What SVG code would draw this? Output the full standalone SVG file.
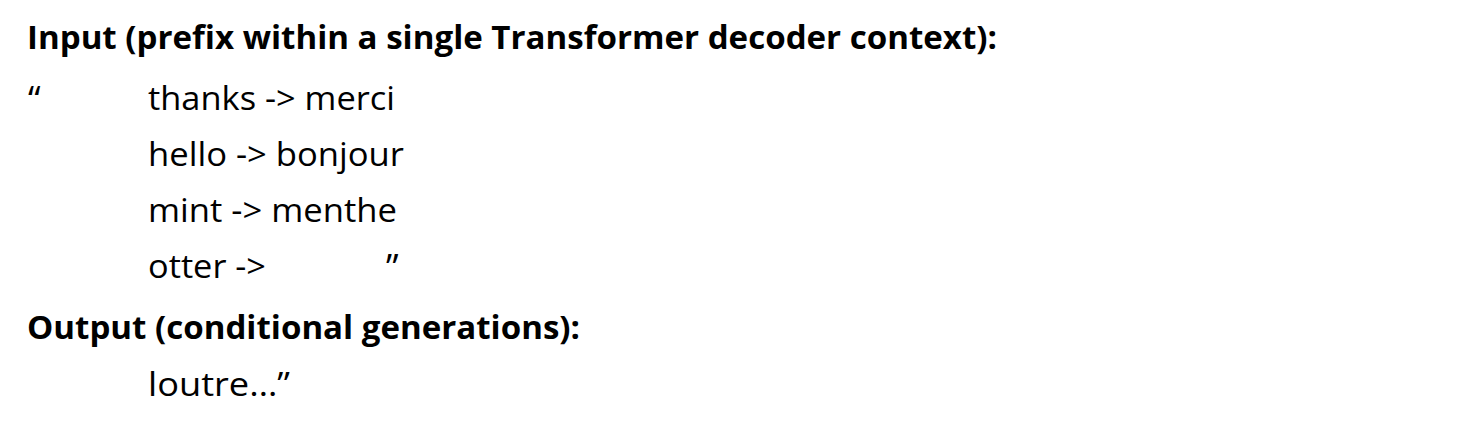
<svg xmlns="http://www.w3.org/2000/svg" width="1471" height="425" viewBox="0 0 1471 425">
<style>
  .t { font-family: "Open Sans", "Noto Sans", "Liberation Sans", sans-serif; font-size: 33px; fill: #000; }
  .b { font-weight: bold; }
  .q { font-size: 36px; }
</style>
<rect width="1471" height="425" fill="#fff"/>
<g id="input-heading">
  <text class="t b" x="27" y="49" textLength="970" lengthAdjust="spacingAndGlyphs">Input (prefix within a single Transformer decoder context):</text>
</g>
<g id="prompt">
  <text class="t q" x="28" y="112">“</text>
  <text class="t" x="148" y="110" textLength="247" lengthAdjust="spacingAndGlyphs">thanks -&gt; merci</text>
  <text class="t" x="148" y="166" textLength="256" lengthAdjust="spacingAndGlyphs">hello -&gt; bonjour</text>
  <text class="t" x="148" y="222" textLength="249" lengthAdjust="spacingAndGlyphs">mint -&gt; menthe</text>
  <text class="t" x="148" y="278" textLength="118" lengthAdjust="spacingAndGlyphs">otter -&gt;</text>
  <text class="t q" x="386" y="280">”</text>
</g>
<g id="output-heading">
  <text class="t b" x="27" y="339" textLength="553" lengthAdjust="spacingAndGlyphs">Output (conditional generations):</text>
</g>
<g id="output">
  <text class="t" x="148" y="396" textLength="142" lengthAdjust="spacingAndGlyphs">loutre…”</text>
</g>
</svg>
